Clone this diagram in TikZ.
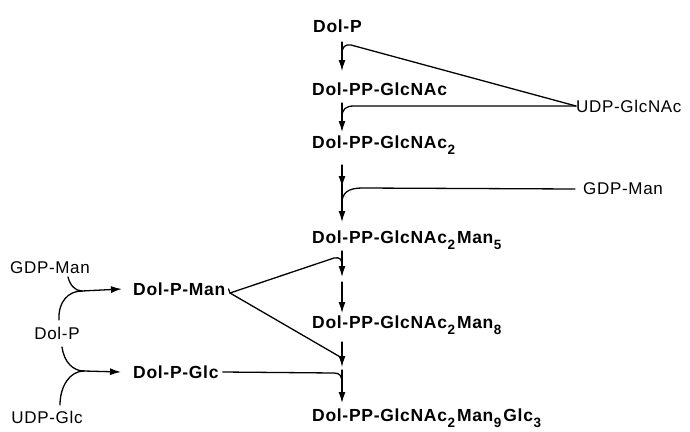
\documentclass[tikz,border=0pt]{standalone}
\usepackage{fontspec}
\setmainfont{Liberation Sans}[LetterSpace=4]
\usetikzlibrary{arrows.meta}
\newcommand\sbs[1]{\hspace{0.5pt}\raisebox{-6pt}{\fontsize{13.5}{13.5}\selectfont #1}\hspace{2pt}}
\tikzset{
  mainlbl/.style={font=\fontsize{17.5}{17.5}\selectfont\bfseries, inner sep=0pt, anchor=west},
  sidelbl/.style={font=\fontsize{17}{17}\selectfont, inner sep=0pt},
  ln/.style={line width=1.3pt, line cap=round},
  arr/.style={ln, -{Latex[length=11pt,width=7pt]}}
}
\begin{document}
\begin{tikzpicture}[x=1pt,y=-1pt]
\useasboundingbox (0,0) rectangle (690,431);
% main chain
\node[mainlbl] (dolp) at (313,26) {Dol-P};
\node[mainlbl] (g1) at (312,89) {Dol-PP-GlcNAc};
\node[mainlbl] (g2) at (312,145) {Dol-PP-GlcNAc\sbs{2}};
\node[mainlbl] (m5) at (312,240) {Dol-PP-GlcNAc\sbs{2}Man\sbs{5}};
\node[mainlbl] (m8) at (312,325) {Dol-PP-GlcNAc\sbs{2}Man\sbs{8}};
\node[mainlbl] (g3) at (312,418) {Dol-PP-GlcNAc\sbs{2}Man\sbs{9}Glc\sbs{3}};
% side donors
\node[sidelbl, anchor=west] (udpglcnac) at (576,106) {UDP-GlcNAc};
\node[sidelbl, anchor=west] (gdpman) at (583,189) {GDP-Man};
% left part
\node[sidelbl] (lgdpman) at (50,268) {GDP-Man};
\node[sidelbl] (ldolp) at (57,333) {Dol-P};
\node[sidelbl] (udpglc) at (47,417) {UDP-Glc};
\node[mainlbl] (dolpman) at (133,289) {Dol-P-Man};
\node[mainlbl] (dolpglc) at (133,372) {Dol-P-Glc};

% coordinates on main axis
\coordinate (a1s) at (342,42);  \coordinate (a1e) at (342,71);
\coordinate (h1) at (342,54);
\coordinate (a2s) at (342,103); \coordinate (a2e) at (342,132);
\coordinate (h2) at (342,117);
\coordinate (a3s) at (342,165); \coordinate (a3e) at (342,187);
\coordinate (a4s) at (342,184); \coordinate (a4e) at (342,222);
\coordinate (h3) at (342,203);
\coordinate (a5s) at (342,251); \coordinate (a5e) at (342,277);
\coordinate (h4) at (342,266);
\coordinate (a6s) at (342,282); \coordinate (a6e) at (342,313);
\coordinate (a7s) at (342,342); \coordinate (a7e) at (342,367);
\coordinate (h5) at (342,358);
\coordinate (a8s) at (342,370); \coordinate (a8e) at (342,403);
\coordinate (h6) at (342,383);
\coordinate (vtx) at (230,293);

% main arrows
\draw[arr] (a1s) -- (a1e);
\draw[arr] (a2s) -- (a2e);
\draw[arr] (a3s) -- (a3e);
\draw[arr] (a4s) -- (a4e);
\draw[arr] (a5s) -- (a5e);
\draw[arr] (a6s) -- (a6e);
\draw[arr] (a7s) -- (a7e);
\draw[arr] (a8s) -- (a8e);

% UDP-GlcNAc branches
\draw[ln] (udpglcnac.west) -- (351,45) .. controls (345,44) and (342,47) .. (h1);
\draw[ln] (udpglcnac.west) -- (354,106) .. controls (346,106) and (342,109) .. (h2);
% GDP-Man branch
\draw[ln] ([xshift=-8pt]gdpman.west) -- (362,188) .. controls (348,188) and (342,193) .. (h3);
% Dol-P-Man branches
\draw[ln] (vtx) -- (334,258) .. controls (340,257) and (342,259) .. (h4);
\draw[ln] (vtx) -- (h5);
\draw[ln] ([xshift=3pt]dolpman.east) -- (vtx);
% Dol-P-Glc branch
\draw[ln] ([xshift=4pt]dolpglc.east) -- (334,373) .. controls (340,373) and (342,376) .. (h6);

% left reactions
\coordinate (j1) at (82,291);
\coordinate (j2) at (84,371);
\draw[ln] (68,277) .. controls (70,285) and (75,291) .. (j1);
\draw[ln] (59,320) .. controls (58,302) and (68,291) .. (j1);
\draw[arr] (j1) -- ([xshift=-11pt]dolpman.west);
\draw[ln] (62,347) .. controls (64,362) and (73,371) .. (j2);
\draw[ln] (60,405) .. controls (60,386) and (70,371) .. (j2);
\draw[arr] (j2) -- ([xshift=-12pt]dolpglc.west);
\end{tikzpicture}
\end{document}
